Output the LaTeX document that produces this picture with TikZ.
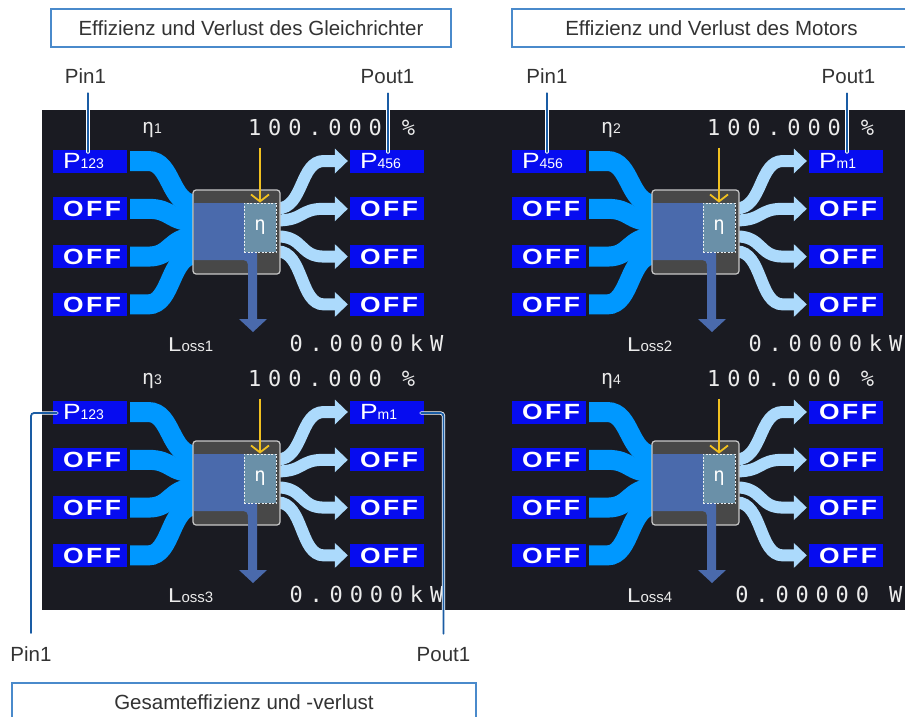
\documentclass[tikz,border=0pt]{standalone}
\usepackage{fontspec}
\setmainfont{Liberation Sans}
\newfontfamily\lcdfont[LetterSpace=31]{DejaVu Sans Mono}
\newfontfamily\offfont[FakeStretch=1.2,LetterSpace=12]{Liberation Sans}
\usetikzlibrary{arrows.meta,positioning}
\pgfdeclarelayer{screen}
\pgfdeclarelayer{flows}
\pgfsetlayers{screen,flows,main}

\definecolor{lcdbg}{RGB}{26,27,34}
\definecolor{chanblue}{RGB}{6,12,240}
\definecolor{inblue}{RGB}{0,152,255}
\definecolor{outblue}{RGB}{172,218,252}
\definecolor{lossblue}{RGB}{74,106,172}
\definecolor{procgray}{RGB}{72,72,72}
\definecolor{procedge}{RGB}{200,200,200}
\definecolor{etateal}{RGB}{106,144,168}
\definecolor{evalyellow}{RGB}{240,192,32}
\definecolor{calloutblue}{RGB}{26,92,164}
\definecolor{frameblue}{RGB}{74,138,203}
\definecolor{labelgray}{RGB}{51,51,51}
\definecolor{lcdwhite}{RGB}{235,235,235}

\newcommand\pwr[1]{{\offfont P}{\normalfont\fontsize{14pt}{14pt}\selectfont #1}}
\newcommand\offtxt{{\offfont\bfseries OFF}}

\begin{document}
\begin{tikzpicture}[x=1pt, y=-1pt,
    chanbox/.style={rectangle, fill=chanblue, text=white, minimum width=74pt, minimum height=23pt, text width=54pt, inner xsep=10pt, inner ysep=0pt, align=left, text height=15.5pt, text depth=0pt, font=\fontsize{22pt}{22pt}\selectfont},
    procbox/.style={rectangle, rounded corners=3pt, fill=procgray, draw=procedge, line width=1.2pt, minimum width=87pt, minimum height=84pt, inner sep=0pt},
    etabox/.style={rectangle, fill=etateal, draw=white!85!etateal, dash pattern=on 2pt off 1.5pt, line width=0.8pt, minimum width=32pt, minimum height=49pt, inner sep=0pt, text=white, font=\lcdfont\fontsize{19pt}{19pt}\selectfont},
    inflow/.style={draw=inblue, line width=20pt},
    outflow/.style={draw=outblue, line width=12pt, -{Triangle[length=13pt, width=25pt, line width=0pt]}},
    lossflow/.style={fill=lossblue},
    evalarrow/.style={draw=evalyellow, line width=1.8pt, -{Straight Barb[length=7pt, width=18pt]}},
    lcdtext/.style={text=lcdwhite, anchor=base west, inner sep=0pt, font=\lcdfont\fontsize{22pt}{22pt}\selectfont},
    titlebox/.style={rectangle, draw=frameblue, line width=1.2pt, fill=white, text=labelgray, minimum height=38pt, font=\fontsize{20.5pt}{24pt}\selectfont},
    annot/.style={text=labelgray, anchor=base, inner sep=4pt, font=\fontsize{20.5pt}{24pt}\selectfont},
    callout/.style={draw=white, double=calloutblue, double distance=1.8pt, line width=0.8pt, line cap=round},
]
    \useasboundingbox (0,0) rectangle (905,717);
    \clip (0,0) rectangle (905,717);

    % --- Screen ---
    \begin{pgfonlayer}{screen}
        \fill[white] (0,0) rectangle (905,717);
        \fill[lcdbg] (42,110) rectangle (905,610);
    \end{pgfonlayer}

    % --- Titles ---
    \node[titlebox, minimum width=400pt] (ttl-rect) at (251,28) {Effizienz und Verlust des Gleichrichter};
    \node[titlebox, minimum width=399pt] (ttl-motor) at (711.5,28) {Effizienz und Verlust des Motors};
    \node[titlebox, minimum width=464pt] (ttl-total) at (244,702) {Gesamteffizienz und -verlust};

    % --- Four efficiency panels ---
    \foreach \q/\dx/\dy/\inlbl/\outlbl/\lossval in {
        1/0/0/{\pwr{123}}/{\pwr{456}}/{0.0000kW},
        2/459/0/{\pwr{456}}/{\pwr{m1}}/{0.0000kW},
        3/0/251/{\pwr{123}}/{\pwr{m1}}/{0.0000kW},
        4/459/251/{\offtxt}/{\offtxt}/{0.00000\kern20pt W}}{
    \begin{scope}[shift={(\dx,\dy)}]
        \foreach \r/\yy in {1/161,2/208.8,3/256.6,4/304.4}{
            \node[chanbox] (in-\q-\r) at (90,\yy) {\ifnum\r=1 \inlbl\else\offtxt\fi};
            \node[chanbox] (out-\q-\r) at (387,\yy) {\ifnum\r=1 \outlbl\else\offtxt\fi};
        }
        \node[procbox] (proc-\q) at (236.5,232) {};

        % flows behind the box
        \begin{pgfonlayer}{flows}
        \foreach \r/\tin/\tout in {1/15/19,2/32/31,3/48/47,4/65/62}{
            \draw[inflow] ([xshift=3pt]in-\q-\r.east) -- ++(18,0)
                .. controls +(24,0) and +(-26,0) .. ([xshift=3pt, yshift=-\tin pt]proc-\q.north west);
            \draw[outflow] ([xshift=-3pt, yshift=-\tout pt]proc-\q.north east)
                .. controls +(26,0) and +(-24,0) .. ([xshift=-26pt]out-\q-\r.west)
                -- ([xshift=-2pt]out-\q-\r.west);
        }
        \end{pgfonlayer}

        % loss path
        \fill[lossflow] (194,203) -- (244,203) -- (244,252) -- (257,252) -- (257,319)
            -- (267,319) -- (253,332) -- (239,319) -- (248,319) -- (248,270)
            .. controls (248,260) .. (238,260) -- (194,260) -- cycle;
        \node[etabox] (eta-\q) at (260,227.5) {η};
        \draw[evalarrow] ([yshift=55pt]eta-\q.north) -- (eta-\q.north);

        % readings
        \node[lcdtext] (etalbl-\q) at (142,133) {{\fontsize{20pt}{20pt}\selectfont η}{\normalfont\fontsize{14pt}{14pt}\selectfont\q}};
        \node[lcdtext] (val-\q) at (248,135) {100.000\kern20pt\%};
        \node[lcdtext] (loss-\q) at (168,351) {{\offfont\fontsize{20pt}{20pt}\selectfont L}{\normalfont\fontsize{15pt}{15pt}\selectfont oss\q}};
        \node[lcdtext, anchor=base east] (lossval-\q) at (443.5,351) {\lossval};
    \end{scope}
    }

    % --- Callouts ---
    \node[annot] (pin-a) at (85.5,84) {Pin1};
    \node[annot] (pout-a) at (387.5,84) {Pout1};
    \node[annot] (pin-b) at (547,84) {Pin1};
    \node[annot] (pout-b) at (848.5,84) {Pout1};
    \node[annot] (pin-c) at (31,661) {Pin1};
    \node[annot] (pout-c) at (443.5,661) {Pout1};

    \coordinate (pin-a-end) at (88,152);
    \coordinate (pout-a-end) at (388,152);
    \coordinate (pin-b-end) at (547,152);
    \coordinate (pout-b-end) at (847,152);
    \coordinate (pin-c-end) at (57,413);
    \coordinate (pout-c-end) at (421,413);

    \draw[callout, shorten <=5pt] (pin-a.south -| pin-a-end) -- (pin-a-end);
    \draw[callout, shorten <=5pt] (pout-a.south -| pout-a-end) -- (pout-a-end);
    \draw[callout, shorten <=5pt] (pin-b.south -| pin-b-end) -- (pin-b-end);
    \draw[callout, shorten <=5pt] (pout-b.south -| pout-b-end) -- (pout-b-end);
    \draw[callout, rounded corners=3pt, shorten <=9pt] (pin-c.north) |- (pin-c-end);
    \draw[callout, rounded corners=3pt, shorten <=9pt] (pout-c.north) |- (pout-c-end);
\end{tikzpicture}
\end{document}
